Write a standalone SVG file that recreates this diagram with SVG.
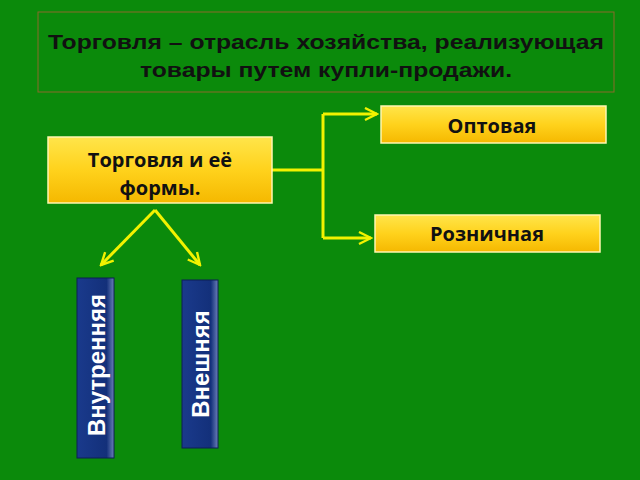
<svg xmlns="http://www.w3.org/2000/svg" width="640" height="480" viewBox="0 0 640 480">
<defs>
<linearGradient id="yg" x1="0" y1="0" x2="0" y2="1"><stop offset="0" stop-color="#ffe54a"/><stop offset="0.5" stop-color="#ffd21c"/><stop offset="1" stop-color="#f5b800"/></linearGradient>
<linearGradient id="bg" x1="0" y1="0" x2="1" y2="0"><stop offset="0" stop-color="#1a3a8c"/><stop offset="0.8" stop-color="#13307a"/><stop offset="1" stop-color="#6a7fb8"/></linearGradient>
<marker id="ar" viewBox="0 0 10 10" refX="9" refY="5" markerWidth="5" markerHeight="5" orient="auto"><path d="M1,1 L9,5 L1,9" fill="none" stroke="#f2f200" stroke-width="1.6"/></marker>
</defs>
<style>
.y{fill:url(#yg);stroke:#fff6b0;stroke-width:1.5}
.b{fill:url(#bg);stroke:#0c1f55;stroke-width:1}
.t{font-family:"Open Sans","Liberation Sans",sans-serif;font-weight:bold;font-size:20px;fill:#111;text-anchor:middle}
.w{font-family:"Liberation Sans",sans-serif;font-weight:bold;font-size:24px;fill:#fff;text-anchor:middle}
.c{fill:none;stroke:#f2f200;stroke-width:3}
</style>
<rect width="640" height="480" fill="#0b8a0b"/>
<g id="title"><rect x="38" y="12" width="576" height="80" fill="none" stroke="#8a6a2a" stroke-width="1"/>
<text x="326" y="49" font-family="Liberation Sans,sans-serif" font-weight="bold" font-size="21" text-anchor="middle" fill="#111" textLength="556" lengthAdjust="spacingAndGlyphs">Торговля – отрасль хозяйства, реализующая</text>
<text x="326" y="77" font-family="Liberation Sans,sans-serif" font-weight="bold" font-size="21" text-anchor="middle" fill="#111" textLength="372" lengthAdjust="spacingAndGlyphs">товары путем купли-продажи.</text></g>
<g id="connectors">
<path class="c" d="M272,170 H323 M323,114 V238" />
<path class="c" d="M323,114 H377" marker-end="url(#ar)"/>
<path class="c" d="M323,238 H371" marker-end="url(#ar)"/>
<path class="c" d="M155,210 L101,265" marker-end="url(#ar)"/>
<path class="c" d="M155,210 L200,265" marker-end="url(#ar)"/>
</g>
<g id="main"><rect class="y" x="48" y="137" width="224" height="66"/>
<text class="t" x="160" y="167">Торговля и её</text><text class="t" x="160" y="195">формы.</text></g>
<g id="opt"><rect class="y" x="381" y="106" width="225" height="37"/><text class="t" x="492" y="133" font-size="21">Оптовая</text></g>
<g id="roz"><rect class="y" x="375" y="215" width="225" height="37"/><text class="t" x="487" y="241">Розничная</text></g>
<g id="vn"><rect class="b" x="77" y="278" width="37" height="180"/><text class="w" transform="translate(105,365) rotate(-90)">Внутренняя</text></g>
<g id="ex"><rect class="b" x="182" y="280" width="36" height="168"/><text class="w" transform="translate(209,364) rotate(-90)">Внешняя</text></g>
</svg>
